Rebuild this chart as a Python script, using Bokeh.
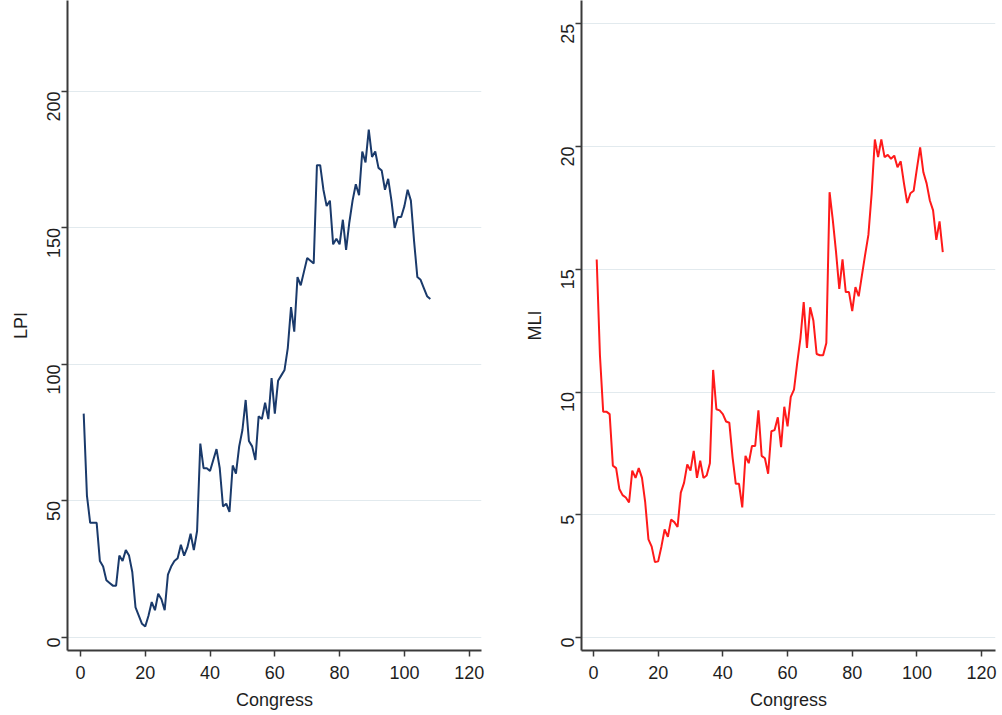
import math
from bokeh.plotting import figure
from bokeh.layouts import row
from bokeh.models import Range1d, FixedTicker
from bokeh.embed import file_html
from bokeh.resources import INLINE

congress = list(range(1, 109))

lpi = [82, 52, 42, 42, 42, 28, 26, 21, 20, 19,
       19, 30, 28, 32, 30, 24, 11, 8, 5, 4,
       8, 13, 10, 16, 14, 10, 23, 26, 28, 29,
       34, 30, 33, 38, 32, 39, 71, 62, 62, 61,
       65, 69, 62, 48, 49, 46, 63, 60, 70, 76,
       87, 72, 70, 65, 81, 80, 86, 80, 95, 82,
       94, 96, 98, 106, 121, 112, 132, 129, 134, 139,
       138, 137, 173, 173, 164, 158, 160, 144, 146, 144,
       153, 142, 152, 160, 166, 162, 178, 174, 186, 176,
       178, 172, 171, 164, 168, 160, 150, 154, 154, 158,
       164, 160, 145, 132, 131, 128, 125, 124]

mli = [15.4, 11.5, 9.2, 9.2, 9.1, 7.0, 6.9, 6.05, 5.8, 5.7,
       5.5, 6.8, 6.5, 6.9, 6.5, 5.5, 4.0, 3.7, 3.07, 3.1,
       3.7, 4.4, 4.1, 4.8, 4.7, 4.5, 5.9, 6.3, 7.05, 6.8,
       7.6, 6.5, 7.2, 6.5, 6.6, 7.1, 10.9, 9.3, 9.25, 9.1,
       8.8, 8.75, 7.35, 6.26, 6.26, 5.3, 7.4, 7.1, 7.8, 7.8,
       9.25, 7.4, 7.3, 6.67, 8.4, 8.45, 8.97, 7.75, 9.4, 8.6,
       9.8, 10.1, 11.2, 12.2, 13.66, 11.8, 13.45, 12.9, 11.55, 11.5,
       11.5, 12.0, 18.14, 17.0, 15.7, 14.2, 15.4, 14.07, 14.07, 13.3,
       14.27, 13.9, 14.75, 15.6, 16.4, 18.07, 20.29, 19.57, 20.29, 19.57,
       19.66, 19.5, 19.63, 19.16, 19.4, 18.5, 17.7, 18.1, 18.2, 19.1,
       19.97, 18.95, 18.5, 17.8, 17.4, 16.2, 16.95, 15.7]

x_ticks = [0, 20, 40, 60, 80, 100, 120]
lpi_ticks = [0, 50, 100, 150, 200]
mli_ticks = [0, 5, 10, 15, 20, 25]
x_title = "Congress"

FONT = "Liberation Sans"
TXT = "#1e1e1e"
AX = "#3a3a3a"
GRID = "#e2eaee"

H = 715
BB = 65


def make(y, ticks, xr, yr, label, color, w, bl, br):
    p = figure(width=w, height=H, output_backend="svg", toolbar_location=None,
               x_range=Range1d(*xr), y_range=Range1d(*yr),
               min_border_left=bl, min_border_right=br,
               min_border_top=0, min_border_bottom=BB)
    p.outline_line_color = None
    p.background_fill_color = "white"
    p.border_fill_color = "white"
    p.line(congress, y, line_color=color, line_width=2)

    p.xaxis.ticker = FixedTicker(ticks=x_ticks)
    p.yaxis.ticker = FixedTicker(ticks=ticks)
    p.xgrid.grid_line_color = None
    p.ygrid.grid_line_color = GRID
    p.ygrid.grid_line_width = 1.2

    for ax in (p.xaxis, p.yaxis):
        ax.axis_line_color = AX
        ax.axis_line_width = 2
        ax.major_tick_line_color = AX
        ax.major_tick_line_width = 1.5
        ax.major_tick_out = 6
        ax.major_tick_in = 0
        ax.minor_tick_line_color = None
        ax.major_label_text_font = FONT
        ax.major_label_text_font_size = "18px"
        ax.major_label_text_color = TXT
        ax.axis_label_text_font = FONT
        ax.axis_label_text_font_size = "18px"
        ax.axis_label_text_font_style = "normal"
        ax.axis_label_text_color = TXT

    p.xaxis.axis_label = x_title
    p.xaxis.major_label_standoff = 9
    p.xaxis.axis_label_standoff = 8
    p.yaxis.axis_label = label
    p.yaxis.major_label_orientation = math.pi / 2
    p.yaxis.major_label_standoff = 8
    p.yaxis.axis_label_standoff = 7
    return p


# frame: x 67..481 (left), 581..995 (right); y 0..650
p1 = make(lpi, lpi_ticks, (-4.0, 123.8), (-4.76, 233.3), "LPI", "#1a3a6b",
          500, 67, 19)
p2 = make(mli, mli_ticks, (-3.7, 124.3), (-0.53, 25.95), "MLI", "#ff1a1a",
          500, 81, 5)

layout = row(p1, p2, spacing=0)
open("out.html", "w").write(file_html(layout, INLINE))
